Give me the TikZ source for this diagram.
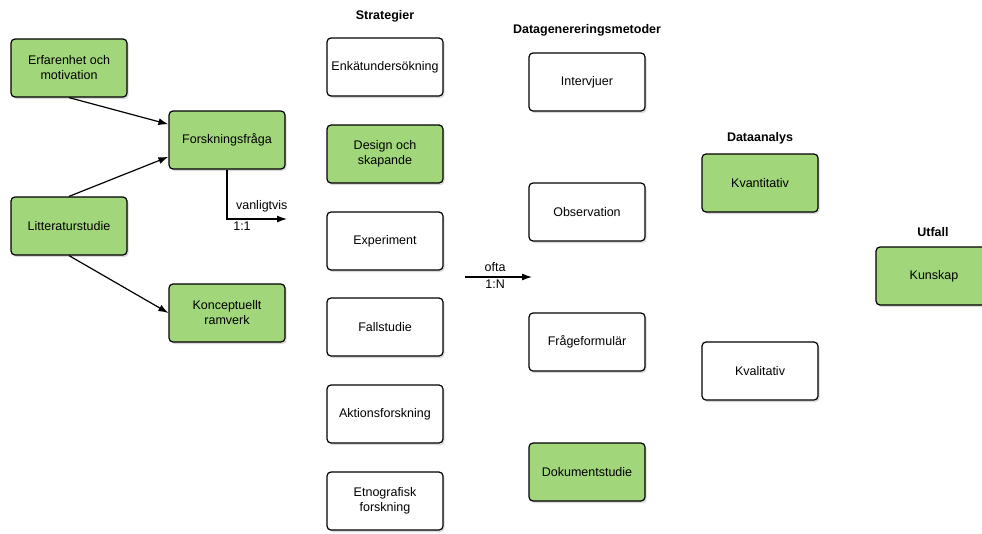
\documentclass[tikz,border=0pt]{standalone}
\usepackage{fontspec}
\setmainfont{Liberation Sans}
\usepackage{xcolor}
\usetikzlibrary{positioning, shadows, arrows.meta}
\definecolor{boxgreen}{RGB}{161,214,122}
\tikzset{
  box/.style={draw, line width=1.2pt, rounded corners=4pt, fill=white, minimum width=116pt, minimum height=58pt, inner sep=1pt, align=center, font=\fontsize{12.5}{15}\selectfont, drop shadow={opacity=0.3, shadow xshift=1.5pt, shadow yshift=-2pt}},
  coltitle/.style={font=\fontsize{12.5}{15}\selectfont\bfseries},
  lbl/.style={font=\fontsize{12.5}{15}\selectfont, inner sep=2pt},
  conn/.style={-{Latex[length=10pt, width=7pt]}, line width=1.2pt}
}

\begin{document}
\begin{tikzpicture}[x=1pt, y=-1pt]
\useasboundingbox (0,0) rectangle (982,533);

\node[box, fill=boxgreen] (erf) at (69,68) {Erfarenhet och\\motivation};
\node[box, fill=boxgreen] (forsk) at (227,140) {Forskningsfråga};
\node[box, fill=boxgreen] (litt) at (69,226) {Litteraturstudie};
\node[box, fill=boxgreen] (konc) at (227,313) {Konceptuellt\\ramverk};

\node[coltitle] (tstrat) at (385,16) {Strategier};
\foreach \n/\y/\t/\c in {enk/67/Enkätundersökning/white, des/154/Design och\\skapande/boxgreen, exp/241/Experiment/white, fall/327/Fallstudie/white, akt/414/Aktionsforskning/white, etn/501/Etnografisk\\forskning/white}
  \node[box, fill=\c] (\n) at (385,\y) {\t};

\node[coltitle] (tdata) at (587,30) {Datagenereringsmetoder};
\foreach \n/\y/\t/\c in {intv/82/Intervjuer/white, obs/212/Observation/white, frag/342/Frågeformulär/white, dok/472/Dokumentstudie/boxgreen}
  \node[box, fill=\c] (\n) at (587,\y) {\t};

\node[coltitle] (tanalys) at (760,138) {Dataanalys};
\node[box, fill=boxgreen] (kvant) at (760,183) {Kvantitativ};
\node[box] (kval) at (760,371) {Kvalitativ};

\node[coltitle] (tutfall) at (933,232) {Utfall};
\node[box, fill=boxgreen] (kun) at (934,276) {Kunskap};

\draw[conn] (erf.south) -- (forsk.165);
\draw[conn] (litt.north) -- (forsk.196);
\draw[conn] (litt.south) -- (konc.west);

\coordinate (vend) at (287,219);
\draw[conn] (forsk.south) |- (vend) node[lbl, pos=0.79, above=4pt] {vanligtvis} node[lbl, pos=0.625, below] {1:1};

\coordinate (oa) at (465,277);
\coordinate (ob) at (532,277);
\draw[conn] (oa) -- (ob) node[lbl, pos=0.45, above=3pt] {ofta} node[lbl, pos=0.45, below] {1:N};
\end{tikzpicture}
\end{document}
